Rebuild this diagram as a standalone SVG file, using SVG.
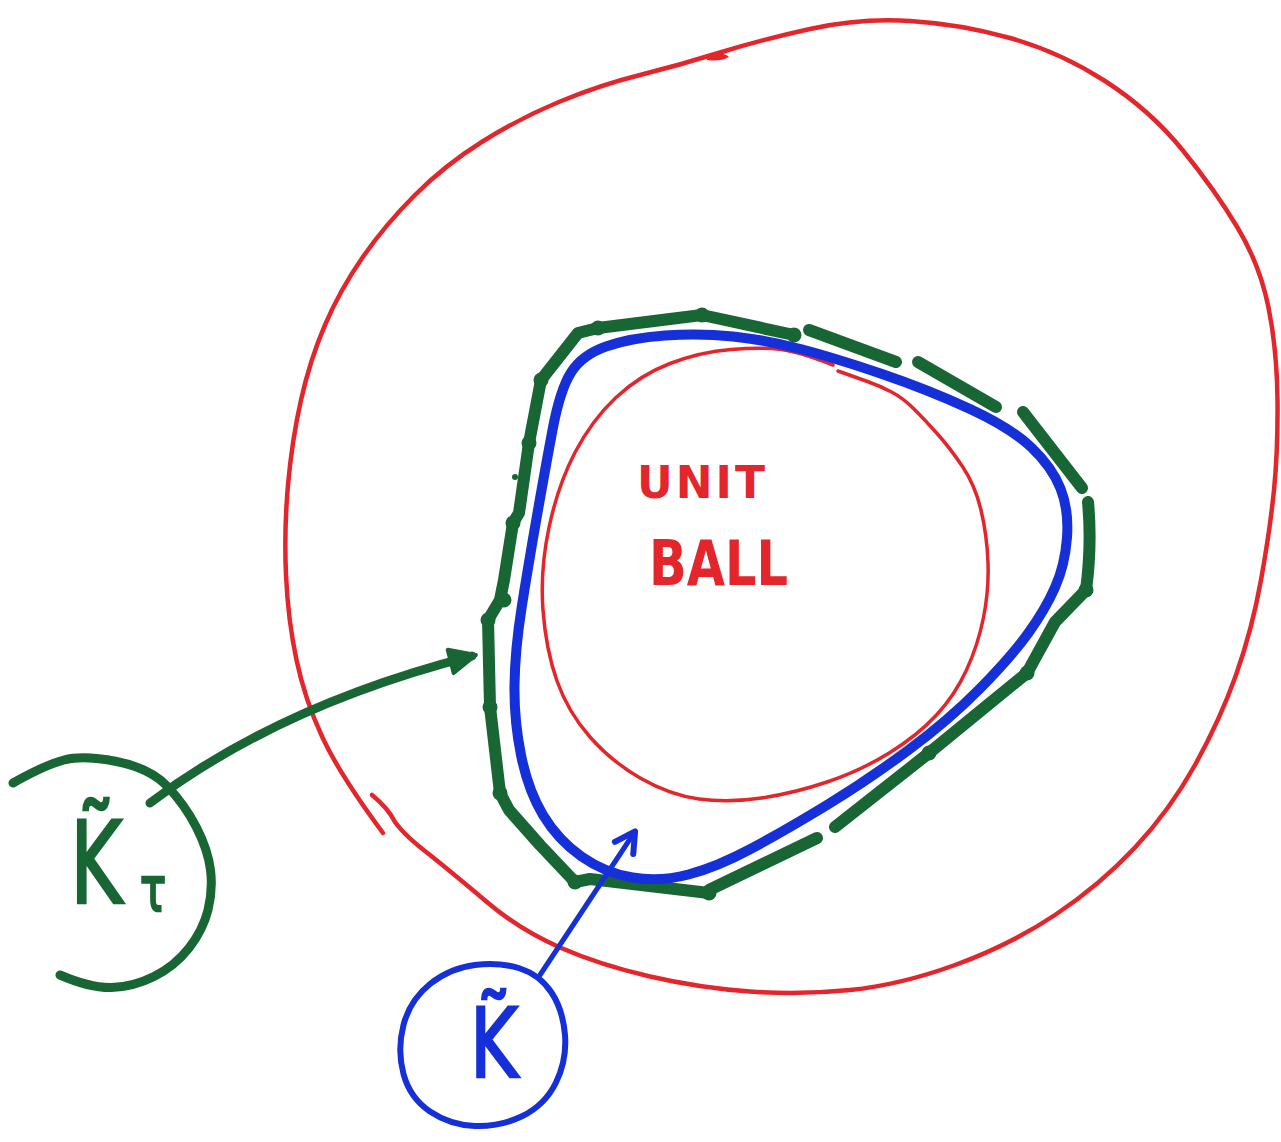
<svg xmlns="http://www.w3.org/2000/svg" width="1281" height="1142" viewBox="0 0 1281 1142">
<style>
.red{fill:none;stroke:#e3262b;stroke-linecap:round;stroke-linejoin:round}
.blue{fill:none;stroke:#1530d8;stroke-linecap:round;stroke-linejoin:round}
.green{fill:none;stroke:#186633;stroke-linecap:round;stroke-linejoin:round}
.knob{fill:#186633}
.lbl{font-family:"DejaVu Sans","Liberation Sans",sans-serif}
</style>
<defs>
<marker id="gArrow" markerUnits="userSpaceOnUse" markerWidth="40" markerHeight="40" refX="0" refY="0" orient="auto" overflow="visible">
<path d="M-22,-12 L4,0 L-22,12 Z" fill="#186633" stroke="#186633" stroke-width="4" stroke-linejoin="round"/>
</marker>
<marker id="bArrow" markerUnits="userSpaceOnUse" markerWidth="40" markerHeight="40" refX="0" refY="0" orient="auto" overflow="visible">
<path d="M-18,-11 L2,0 L-18,11" fill="none" stroke="#1530d8" stroke-width="6" stroke-linejoin="round" stroke-linecap="round"/>
</marker>
</defs>
<rect width="1281" height="1142" fill="#ffffff"/>

<g id="outer-ball">
<path class="red" stroke-width="4.5" d="M383,833 Q340,775 322.5,737.5 Q305,700 296.5,660 Q288,620 286,575 Q284,530 288,485 Q292,440 301,400 Q310,360 325,325 Q340,290 362.5,257.5 Q385,225 415,195 Q445,165 482.5,141.5 Q520,118 560,101.5 Q600,85 640,75 Q680,65 720,52.5 Q760,40 810,29 Q860,18 910,21 Q960,24 1010,38 Q1060,52 1105,81 Q1150,110 1182.5,150 Q1215,190 1237.5,227.5 Q1260,265 1268.5,307.5 Q1277,350 1277.5,400 Q1278,450 1274,490 Q1270,530 1261,580 Q1252,630 1236,675 Q1220,720 1195,765 Q1170,810 1135,847.5 Q1100,885 1055,915 Q1010,945 955,965 Q900,985 850,990 Q800,995 750,991.5 Q700,988 650,976.5 Q600,965 560,947.5 Q520,930 487.5,902.5 Q455,875 430,855 Q405,836 395,822 Q388,808 372,795"/>
<path d="M706,57 Q722,50 729,57 Q720,62 707,60 Z" fill="#e3262b"/>
</g>

<g id="unit-ball">
<path class="red" stroke-width="3.5" d="M833,365 Q800,352 781,349.5 Q762,347 731,349.5 Q700,352 670,363.5 Q640,375 616,397.5 Q592,420 575,452.5 Q558,485 549,527.5 Q540,570 543,610 Q546,650 557,681 Q568,712 590,737 Q612,762 641,778.5 Q670,795 699,799 Q728,803 761.5,798 Q795,793 828.5,781.5 Q862,770 890,752.5 Q918,735 936.5,715 Q955,695 966.5,670 Q978,645 983.5,617.5 Q989,590 988,562.5 Q987,535 981,510 Q975,485 962.5,466.5 Q950,448 937.5,434 Q925,420 914,409 Q903,398 891.5,392 Q880,386 867.5,381.5 Q855,377 838,371"/>
<text class="lbl" x="637" y="498" font-size="44" font-weight="bold" fill="#e3262b" textLength="128" lengthAdjust="spacing">UNIT</text>
<text class="lbl" x="649" y="585" font-size="62" font-weight="bold" fill="#e3262b" textLength="139" lengthAdjust="spacingAndGlyphs">BALL</text>
</g>

<g id="k-tau-polygon">
<path class="green" stroke-width="12" d="M709,893 L590,879 L575,882 L540,845 L509,810 L500,793 L490,707 L488,620 L500,600 L504,580 L513,523 L519,513 L529,443 L541,380 L578,333 L598,328 L702,315 L794,335"/>
<path class="green" stroke-width="12" d="M817,838 L709,890"/>
<path class="green" stroke-width="12" d="M809,330 L896,362"/>
<path class="green" stroke-width="12" d="M918,362 L996,407"/>
<path class="green" stroke-width="12" d="M1023,412 L1082,488"/>
<path class="green" stroke-width="12" d="M1088,502 Q1092,545 1086,590 L1055,622 L1027,673 L929,753 L835,827"/>
<circle class="knob" cx="541" cy="380" r="7.5"/>
<circle class="knob" cx="529" cy="443" r="7.5"/>
<circle class="knob" cx="513" cy="523" r="7.5"/>
<circle class="knob" cx="504" cy="600" r="7.5"/>
<circle class="knob" cx="488" cy="620" r="7.5"/>
<circle class="knob" cx="490" cy="707" r="7.5"/>
<circle class="knob" cx="500" cy="793" r="7.5"/>
<circle class="knob" cx="598" cy="328" r="7.5"/>
<circle class="knob" cx="702" cy="315" r="7.5"/>
<circle class="knob" cx="794" cy="335" r="7.5"/>
<circle class="knob" cx="709" cy="893" r="7.5"/>
<circle class="knob" cx="1086" cy="590" r="7.5"/>
<circle class="knob" cx="1027" cy="673" r="7.5"/>
<circle class="knob" cx="929" cy="753" r="7.5"/>
<circle class="knob" cx="575" cy="882" r="7.5"/>
<circle class="knob" cx="515" cy="477" r="3"/>
</g>

<g id="k-curve">
<path class="blue" stroke-width="10" d="M606,346.5 Q630,338 665,335.5 Q700,333 733,336.5 Q766,340 800.5,349 Q835,358 882,374 Q929,390 970,409 Q1011,428 1031.5,447.5 Q1052,467 1060.5,488.5 Q1069,510 1067,537.5 Q1065,565 1055,587.5 Q1045,610 1028,633.5 Q1011,657 980,688.5 Q949,720 908.5,750 Q868,780 827,805 Q786,830 751.5,848.5 Q717,867 688.5,874.5 Q660,882 632.5,877.5 Q605,873 581.5,856.5 Q558,840 543,815 Q528,790 521,755 Q514,720 514.5,685 Q515,650 521.5,608.5 Q528,567 536.5,518.5 Q545,470 552.5,430 Q560,390 571,372.5 Q582,355 606,346.5 Z"/>
</g>

<g id="label-k-tau">
<path class="green" stroke-width="9" d="M13,783 Q45,765 64,760 Q83,755 116.5,761.5 Q150,768 167.5,786.5 Q185,805 196.5,827.5 Q208,850 210.5,870 Q213,890 208,910 Q203,930 189,948 Q175,966 154,976.5 Q133,987 111.5,987.5 Q90,988 60,975"/>
<text class="lbl" fill="#186633" stroke="#186633" stroke-width="2.5" transform="translate(70,903) scale(0.7,1)"><tspan font-size="114">K̃</tspan><tspan x="100" y="8" font-size="62">τ</tspan></text>
</g>

<g id="label-k">
<path class="blue" stroke-width="6" d="M520,968.5 Q500,962 475,965 Q450,968 430,984 Q410,1000 403.5,1025 Q397,1050 403.5,1074 Q410,1098 430,1111.5 Q450,1125 475,1126 Q500,1127 522.5,1116 Q545,1105 556,1082.5 Q567,1060 565,1035 Q563,1010 551.5,992.5 Q540,975 520,968.5 Z"/>
<text class="lbl" fill="#1530d8" stroke="#1530d8" stroke-width="2.5" font-size="96" transform="translate(470,1077) scale(0.76,1)">K̃</text>
</g>

<g id="connectors">
<path class="green" stroke-width="9" d="M150,803 Q280,705 472,656" marker-end="url(#gArrow)"/>
<path class="blue" stroke-width="5" d="M540,975 L634,833" marker-end="url(#bArrow)"/>
</g>
</svg>
